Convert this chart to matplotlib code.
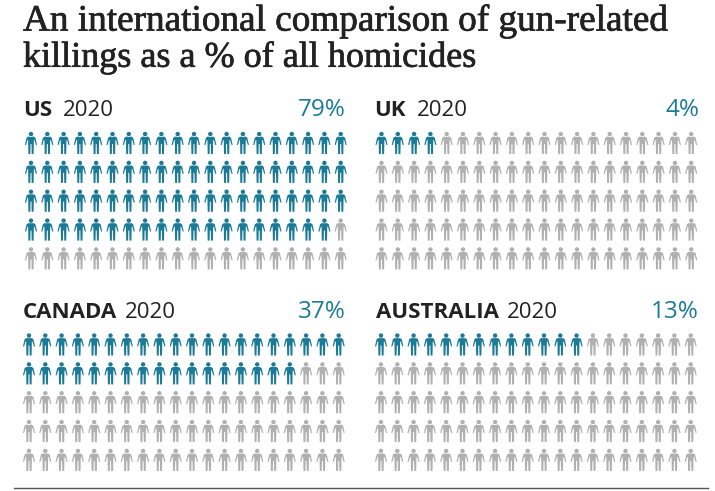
import matplotlib
matplotlib.use("Agg")
import matplotlib.pyplot as plt
import matplotlib.patheffects as pe
import numpy as np
from matplotlib.path import Path

W, H = 715, 491
TEAL = "#1b7a96"
GREY = "#b0b0b0"
INK = "#222222"

title_lines = ["An international comparison of gun-related", "killings as a % of all homicides"]
countries = ["US", "UK", "CANADA", "AUSTRALIA"]
years = ["2020", "2020", "2020", "2020"]
percents = [79, 4, 37, 13]

# Pixel layout of each panel, measured from the top-left of the figure
grid_left = [31, 381.5, 29, 381]
grid_top = [143, 143, 344.5, 344.5]
header_y = [110, 110, 312, 312]
header_x = [23, 374, 23, 376]
year_x = [63, 417, 125, 507]
pct_right = [346, 699, 346, 699]

COLS, ROWS = 20, 5
DX, DY = 16.3, 28.85


def person_marker():
    half = [(0, 6.6), (3.0, 6.6), (4.6, 5.4), (6.3, -2.0), (5.1, -2.0), (3.6, 3.2),
            (3.0, 3.0), (2.7, -11.5), (0.7, -11.5), (0.5, -1.0), (0, -1.0)]
    outline = half + [(-x, y) for x, y in half[-2::-1]]
    body = Path(outline + [outline[0]], closed=True)
    head = Path.circle((0, 9.3), 2.3)
    return Path.make_compound_path(body, head)


fig = plt.figure(figsize=(W / 100, H / 100), dpi=100, facecolor="white")
canvas = fig.add_axes([0, 0, 1, 1])
canvas.set_xlim(0, W)
canvas.set_ylim(H, 0)
canvas.axis("off")

heavier = [pe.withStroke(linewidth=0.5, foreground=INK)]
canvas.text(23, 21, title_lines[0], family="Liberation Serif", fontsize=26.8, color=INK,
            va="center", path_effects=heavier)
canvas.text(23, 58, title_lines[1], family="Liberation Serif", fontsize=26.0, color=INK,
            va="center", path_effects=heavier)

marker = person_marker()
for i, name in enumerate(countries):
    canvas.text(header_x[i], header_y[i], name, family="Open Sans", fontweight="bold",
                fontsize=16, color=INK, va="center")
    canvas.text(year_x[i], header_y[i], years[i], family="Open Sans",
                fontsize=16, color=INK, va="center")
    canvas.text(pct_right[i], header_y[i], f"{percents[i]}%", family="Open Sans",
                fontsize=17.5, color=TEAL, va="center", ha="right")

    rows, cols = np.divmod(np.arange(COLS * ROWS), COLS)
    xs = grid_left[i] + cols * DX
    ys = grid_top[i] + rows * DY
    colours = [TEAL if k < percents[i] else GREY for k in range(COLS * ROWS)]
    canvas.scatter(xs, ys, s=258, marker=marker, c=colours, linewidths=0, snap=False)

canvas.plot([14, 708], [488, 488], color="#555555", lw=1.0)

fig.savefig("out.png", dpi=100, facecolor="white")
